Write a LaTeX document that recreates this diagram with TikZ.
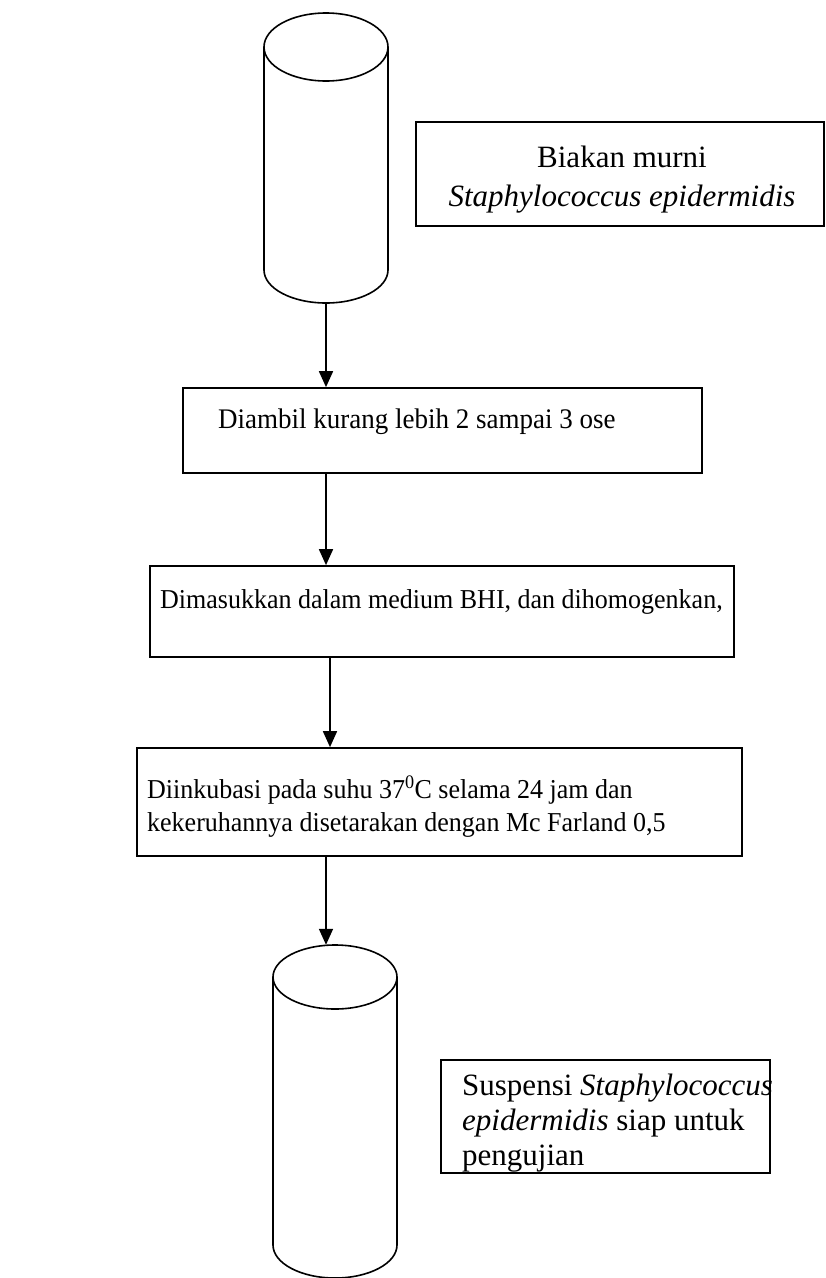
\documentclass[tikz,border=0pt]{standalone}
\usepackage{fontspec}
\usepackage{graphicx}
\setmainfont{Liberation Serif}
\usetikzlibrary{arrows.meta,calc}
\newcommand{\tallbox}[1]{\scalebox{1}[1.05]{#1}}
\begin{document}
\begin{tikzpicture}[x=1pt,y=-1pt,
  box/.style={draw, line width=1.7pt, inner sep=0pt},
  txt/.style={inner sep=0pt, font=\fontsize{26}{31}\selectfont},
  bigtxt/.style={inner sep=0pt, font=\fontsize{31}{37}\selectfont},
  arr/.style={line width=1.7pt, -{Triangle[length=16pt,width=14pt]}},
  cyl/.style={line width=1.6pt},
  hold/.style={inner sep=0pt}]
\useasboundingbox (0,0) rectangle (826,1278);
\clip (0,0) rectangle (826,1278);
\fill[white] (0,0) rectangle (826,1278);

% top cylinder
\node[hold, minimum width=124pt, minimum height=290pt] (cyl1) at (326,158) {};
\draw[cyl] (326,47) ellipse [x radius=62, y radius=34];
\draw[cyl] (264,47) -- (264,270) arc[start angle=180, end angle=0, x radius=62, y radius=33] -- (388,47);

% box 1
\node[box, minimum width=408pt, minimum height=104pt] (b1) at (620,174) {};
\node[bigtxt, anchor=base] (t1a) at (622,167) {Biakan murni};
\node[bigtxt, anchor=base] (t1b) at (622,206) {\textit{Staphylococcus epidermidis}};

% box 2
\node[box, minimum width=519pt, minimum height=85pt] (b2) at (442.5,430.5) {};
\node[txt, font=\fontsize{27}{32}\selectfont, anchor=base west] (t2) at (218,428) {\tallbox{Diambil kurang lebih 2 sampai 3 ose}};

% box 3
\node[box, minimum width=584pt, minimum height=91pt] (b3) at (442,611.5) {};
\node[txt, anchor=base west] (t3) at (160,608) {\tallbox{Dimasukkan dalam medium BHI, dan dihomogenkan,}};

% box 4
\node[box, minimum width=605pt, minimum height=108pt] (b4) at (439.5,802) {};
\node[txt, anchor=base west] (t4a) at (147,798) {\tallbox{Diinkubasi pada suhu 37\textsuperscript{0}C selama 24 jam dan}};
\node[txt, anchor=base west] (t4b) at (147,831) {\tallbox{kekeruhannya disetarakan dengan Mc Farland 0,5}};

% bottom cylinder
\node[hold, minimum width=124pt, minimum height=333pt] (cyl2) at (335,1111.5) {};
\draw[cyl] (335,977) ellipse [x radius=62, y radius=32];
\draw[cyl] (273,977) -- (273,1245) arc[start angle=180, end angle=0, x radius=62, y radius=33] -- (397,977);

% box 5
\node[box, minimum width=329pt, minimum height=113pt] (b5) at (605.5,1116.5) {};
\node[bigtxt, anchor=base west] (t5a) at (462,1095) {Suspensi \textit{Staphylococcus}};
\node[bigtxt, anchor=base west] (t5b) at (462,1130) {\textit{epidermidis} siap untuk};
\node[bigtxt, anchor=base west] (t5c) at (462,1165) {pengujian};

% arrows
\draw[arr] (cyl1.south) -- (cyl1.south |- b2.north);
\draw[arr] (b2.south -| cyl1.south) -- (cyl1.south |- b3.north);
\draw[arr] ($(b3.south -| cyl1.south)+(4,0)$) -- ($(cyl1.south |- b4.north)+(4,0)$);
\draw[arr] (b4.south -| cyl1.south) -- (cyl1.south |- cyl2.north);
\end{tikzpicture}
\end{document}
